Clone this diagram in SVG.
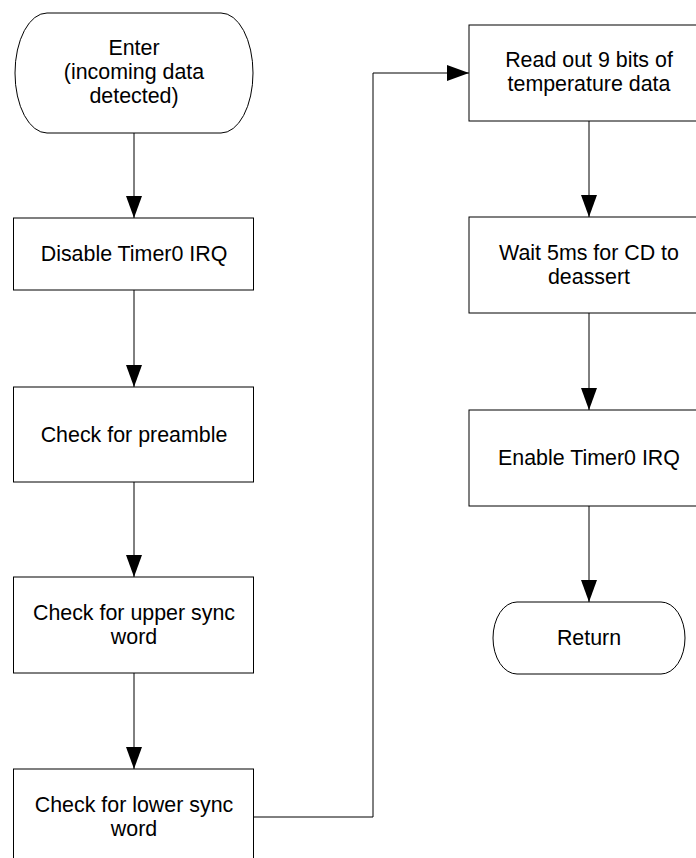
<svg xmlns="http://www.w3.org/2000/svg" width="696" height="858" viewBox="0 0 696 858">
  <style>
    .shape { fill: #ffffff; stroke: #000000; stroke-width: 1; }
    .label { font-family: "Liberation Sans", Arial, sans-serif; font-size: 21.4px; fill: #000000; text-anchor: middle; }
    .edge { fill: none; stroke: #000000; stroke-width: 1; marker-end: url(#arrow); }
  </style>
  <defs>
    <marker id="arrow" markerUnits="userSpaceOnUse" markerWidth="22" markerHeight="16" refX="22" refY="8" orient="auto">
      <path d="M0,0 L22,8 L0,16 Z" fill="#000000"/>
    </marker>
  </defs>
  <rect width="696" height="858" fill="#ffffff"/>

  <!-- connectors -->
  <g id="connectors">
    <line class="edge" x1="134" y1="133" x2="134" y2="218"/>
    <line class="edge" x1="134" y1="290" x2="134" y2="387"/>
    <line class="edge" x1="134" y1="482" x2="134" y2="577"/>
    <line class="edge" x1="134" y1="673" x2="134" y2="769"/>
    <polyline class="edge" points="254,817 373,817 373,73 469,73"/>
    <line class="edge" x1="589" y1="121" x2="589" y2="217"/>
    <line class="edge" x1="589" y1="313" x2="589" y2="410"/>
    <line class="edge" x1="589" y1="506" x2="589" y2="602"/>
  </g>

  <!-- left column -->
  <g id="enter">
    <path class="shape" d="M47,13 H221 A32,60 0 0 1 221,133 H47 A32,60 0 0 1 47,13 Z"/>
    <text class="label" x="134" y="55">Enter</text>
    <text class="label" x="134" y="79">(incoming data</text>
    <text class="label" x="134" y="103">detected)</text>
  </g>
  <g id="disable-timer0">
    <rect class="shape" x="13.5" y="218" width="240" height="72"/>
    <text class="label" x="134" y="261">Disable Timer0 IRQ</text>
  </g>
  <g id="check-preamble">
    <rect class="shape" x="13.5" y="387" width="240" height="95"/>
    <text class="label" x="134" y="442">Check for preamble</text>
  </g>
  <g id="check-upper-sync">
    <rect class="shape" x="13.5" y="577" width="240" height="96"/>
    <text class="label" x="134" y="620">Check for upper sync</text>
    <text class="label" x="134" y="644">word</text>
  </g>
  <g id="check-lower-sync">
    <rect class="shape" x="13.5" y="769" width="240" height="96"/>
    <text class="label" x="134" y="812">Check for lower sync</text>
    <text class="label" x="134" y="836">word</text>
  </g>

  <!-- right column -->
  <g id="read-temperature">
    <rect class="shape" x="469" y="25" width="240" height="96"/>
    <text class="label" x="589" y="67">Read out 9 bits of</text>
    <text class="label" x="589" y="91">temperature data</text>
  </g>
  <g id="wait-cd">
    <rect class="shape" x="469" y="217" width="240" height="96"/>
    <text class="label" x="589" y="260">Wait 5ms for CD to</text>
    <text class="label" x="589" y="284">deassert</text>
  </g>
  <g id="enable-timer0">
    <rect class="shape" x="469" y="410" width="240" height="96"/>
    <text class="label" x="589" y="465">Enable Timer0 IRQ</text>
  </g>
  <g id="return">
    <path class="shape" d="M517,602 H661 A24,36 0 0 1 661,674 H517 A24,36 0 0 1 517,602 Z"/>
    <text class="label" x="589" y="645">Return</text>
  </g>
</svg>
